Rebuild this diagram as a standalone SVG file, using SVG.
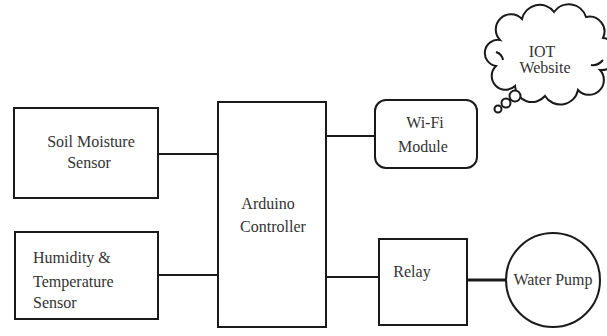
<svg xmlns="http://www.w3.org/2000/svg" width="607" height="336" viewBox="0 0 607 336" font-family="'Liberation Serif', 'Times New Roman', 'DejaVu Serif', serif">
<style>
.box{fill:#fff;stroke:#1a1a1a;stroke-width:2}
.ln{stroke:#1a1a1a;stroke-width:2;fill:none}
.t{font-family:'Liberation Serif','Times New Roman','DejaVu Serif',serif;font-size:16px;fill:#333}
.c{text-anchor:middle}
</style>
<rect width="607" height="336" fill="#fff"/>
<g id="connectors">
<line class="ln" x1="158" y1="154" x2="218" y2="154"/>
<line class="ln" x1="158" y1="275" x2="218" y2="275"/>
<line class="ln" x1="326" y1="136" x2="375" y2="136"/>
<line class="ln" x1="326" y1="277" x2="379" y2="277"/>
<line class="ln" x1="467" y1="280" x2="506" y2="280" style="stroke-width:3"/>
</g>
<g id="soil">
<rect class="box" x="14" y="108" width="144" height="90"/>
<text class="t c" x="91" y="147">Soil Moisture</text>
<text class="t c" x="89" y="168">Sensor</text>
</g>
<g id="humidity">
<rect class="box" x="15" y="232" width="143" height="87"/>
<text class="t" x="33" y="263">Humidity &amp;</text>
<text class="t" x="33" y="287">Temperature</text>
<text class="t" x="33" y="308">Sensor</text>
</g>
<g id="arduino">
<rect class="box" x="218" y="102" width="108" height="225"/>
<text class="t c" x="268" y="209">Arduino</text>
<text class="t c" x="273" y="232">Controller</text>
</g>
<g id="wifi">
<rect class="box" x="375" y="100" width="102" height="68" rx="11"/>
<text class="t c" x="425" y="128">Wi-Fi</text>
<text class="t c" x="423" y="152">Module</text>
</g>
<g id="relay">
<rect class="box" x="379" y="239" width="88" height="86"/>
<text class="t c" x="412" y="277">Relay</text>
</g>
<g id="pump">
<circle class="box" cx="553" cy="280" r="47"/>
<text class="t c" x="553" y="285">Water Pump</text>
</g>
<g id="iot">
<path class="box" d="M500,40 A15,15 0 0 1 522,19 A18,18 0 0 1 554,12 A18,18 0 0 1 586,17 A15,15 0 0 1 603,38 A16,16 0 0 1 600,70 A14,14 0 0 1 578,90 A18,18 0 0 1 545,96 A17,17 0 0 1 515,86 A13,13 0 0 1 496,66 A13,13 0 0 1 500,40 Z"/>
<path class="ln" d="M603,60 q-5,6 -12,5"/>
<path class="ln" d="M496,52 q6,2 7,8"/>
<circle class="box" cx="498" cy="109" r="3.5"/>
<circle class="box" cx="506" cy="103" r="4.5"/>
<circle class="box" cx="515" cy="96" r="5.5"/>
<text class="t c" x="542" y="57">IOT</text>
<text class="t c" x="545" y="73">Website</text>
</g>
</svg>
